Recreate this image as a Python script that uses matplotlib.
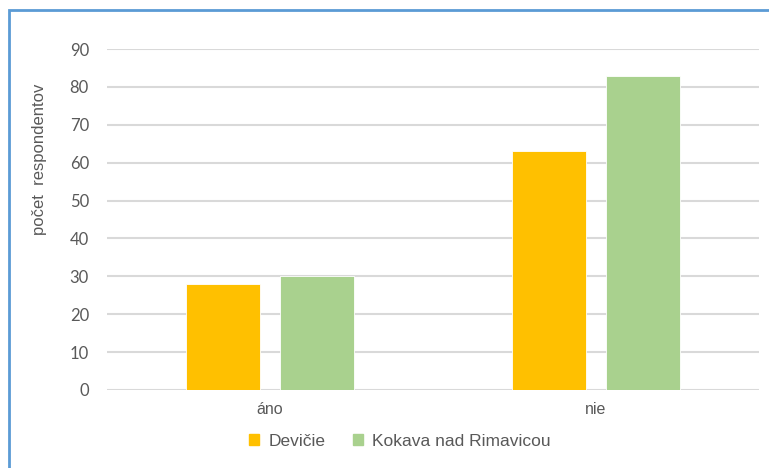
import matplotlib
matplotlib.use("Agg")
import matplotlib.pyplot as plt
import matplotlib.patches as mpatches
import numpy as np

categories = ["áno", "nie"]
series_names = ["Devičie", "Kokava nad Rimavicou"]
devicie = [28, 63]
kokava = [30, 83]
yticks = [0, 10, 20, 30, 40, 50, 60, 70, 80, 90]

colors = ["#FFC000", "#A9D18E"]
text_col = "#595959"
grid_col = "#D9D9D9"

fig = plt.figure(figsize=(7.69, 4.68), dpi=100)
ax = fig.add_axes([107 / 769, 1 - 390 / 468, 652 / 769, 341 / 468])

x = np.arange(len(categories))
w = 0.227
off = 0.143
for vals, col, off_i in [(devicie, colors[0], -off), (kokava, colors[1], off)]:
    ax.bar(x + off_i, vals, width=w, color=col, edgecolor="white",
           linewidth=0.6, zorder=3)

ax.set_xlim(-0.5, 1.5)
ax.set_ylim(0, 90)
ax.set_yticks(yticks)
ax.set_xticks(x)
ax.set_xticklabels(categories, fontfamily="Liberation Sans", fontsize=11.5,
                   color=text_col)
ax.set_yticklabels([str(t) for t in yticks], fontfamily="Lato", fontsize=12,
                   color=text_col)
ax.tick_params(axis="both", length=0)
ax.tick_params(axis="y", pad=13)
ax.tick_params(axis="x", pad=9)
ax.grid(axis="y", color=grid_col, linewidth=1.5, zorder=0)
for s in ax.spines.values():
    s.set_visible(False)

fig.text(40 / 769, 1 - 159 / 468, "počet  respondentov", rotation=90,
         ha="center", va="center", fontfamily="Liberation Sans",
         fontsize=12, color=text_col)

handles = [mpatches.Patch(color=c) for c in colors]
leg = fig.legend(handles, series_names, loc="center", ncol=2,
                 bbox_to_anchor=(400 / 769, 1 - 441 / 468), frameon=False,
                 prop={"family": "Liberation Sans", "size": 12.5},
                 handlelength=0.55, handleheight=0.55, handletextpad=0.55,
                 columnspacing=1.6, borderaxespad=0)
for t in leg.get_texts():
    t.set_color(text_col)

# outer chart border
fig.patches.append(mpatches.Rectangle((9 / 769, -0.2), 1.2, 1 - 10 / 468 + 0.2,
                                      transform=fig.transFigure, fill=False,
                                      edgecolor="#5B9BD5", linewidth=2))

fig.savefig("out.png", dpi=100)
